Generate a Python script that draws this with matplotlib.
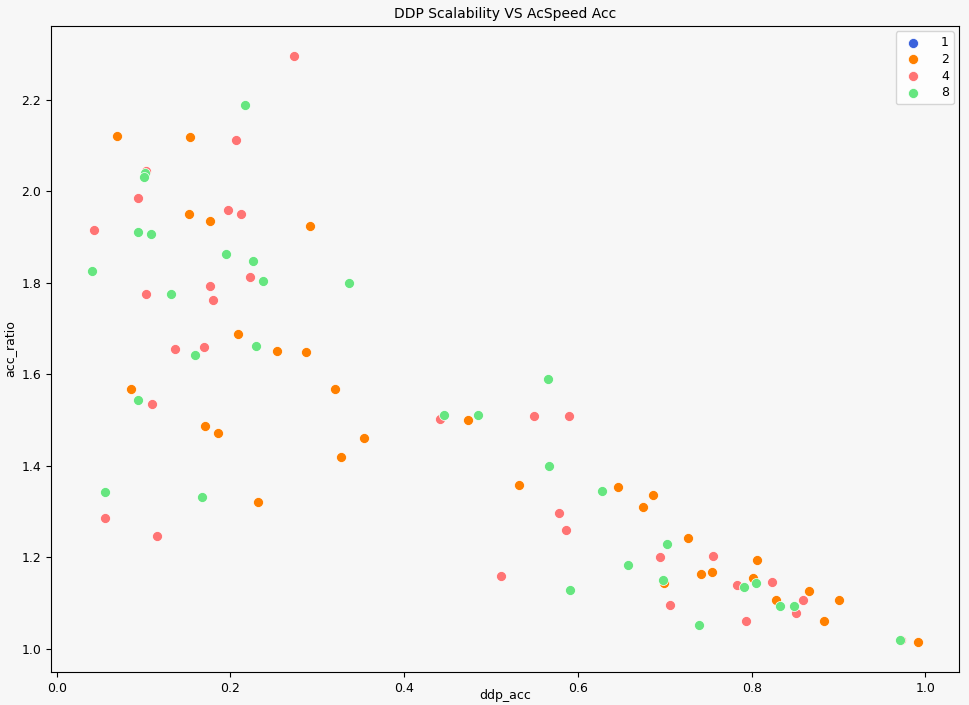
import matplotlib
matplotlib.use("Agg")
import matplotlib.pyplot as plt

# ddp_acc / acc_ratio per number of workers
x_1 = []
y_1 = []

x_2 = [0.069, 0.153, 0.152, 0.176, 0.291, 0.209, 0.253, 0.287, 0.086, 0.320,
       0.171, 0.186, 0.354, 0.327, 0.232, 0.474, 0.532, 0.646, 0.686, 0.675,
       0.727, 0.806, 0.754, 0.742, 0.699, 0.801, 0.866, 0.828, 0.901, 0.883,
       0.992]
y_2 = [2.121, 2.119, 1.950, 1.936, 1.925, 1.688, 1.651, 1.650, 1.568, 1.568,
       1.488, 1.473, 1.462, 1.420, 1.321, 1.501, 1.358, 1.354, 1.337, 1.310,
       1.242, 1.194, 1.169, 1.163, 1.144, 1.156, 1.127, 1.107, 1.108, 1.061,
       1.015]

x_4 = [0.273, 0.206, 0.103, 0.094, 0.043, 0.197, 0.212, 0.222, 0.176, 0.103,
       0.180, 0.136, 0.169, 0.110, 0.056, 0.115, 0.441, 0.549, 0.590, 0.578,
       0.586, 0.511, 0.695, 0.756, 0.706, 0.783, 0.823, 0.859, 0.793, 0.851,
       0.972]
y_4 = [2.296, 2.112, 2.044, 1.986, 1.915, 1.960, 1.950, 1.813, 1.794, 1.777,
       1.762, 1.655, 1.659, 1.536, 1.287, 1.248, 1.503, 1.510, 1.510, 1.297,
       1.261, 1.159, 1.201, 1.203, 1.096, 1.140, 1.147, 1.108, 1.061, 1.078,
       1.019]

x_8 = [0.217, 0.102, 0.100, 0.094, 0.108, 0.041, 0.195, 0.226, 0.237, 0.336,
       0.131, 0.159, 0.229, 0.094, 0.055, 0.167, 0.446, 0.485, 0.566, 0.567,
       0.628, 0.591, 0.658, 0.702, 0.698, 0.739, 0.791, 0.805, 0.833, 0.849,
       0.971]
y_8 = [2.188, 2.041, 2.031, 1.911, 1.907, 1.827, 1.863, 1.849, 1.805, 1.799,
       1.777, 1.643, 1.662, 1.544, 1.343, 1.332, 1.511, 1.511, 1.590, 1.399,
       1.346, 1.130, 1.184, 1.230, 1.151, 1.052, 1.136, 1.144, 1.093, 1.093,
       1.020]

series = [
    ("1", x_1, y_1, "#3a62dc"),
    ("2", x_2, y_2, "#ff8000"),
    ("4", x_4, y_4, "#ff7474"),
    ("8", x_8, y_8, "#66e680"),
]

bg = "#f7f7f7"
fig = plt.figure(figsize=(9.7, 7.05), dpi=100, facecolor=bg)
ax = fig.add_axes([51 / 970, 1 - 672 / 705, 908 / 970, 646 / 705])
ax.set_facecolor(bg)

for label, xs, ys, color in series:
    ax.scatter(xs, ys, s=52, color=color, edgecolors="white", linewidths=0.5,
               label=label)

ax.set_xlim(-0.0066, 1.0387)
ax.set_ylim(0.9497, 2.3617)
ax.set_xticks([0.0, 0.2, 0.4, 0.6, 0.8, 1.0])
ax.set_yticks([1.0, 1.2, 1.4, 1.6, 1.8, 2.0, 2.2])

ax.set_title("DDP Scalability VS AcSpeed Acc", fontsize=10)
ax.set_xlabel("ddp_acc", fontsize=9, va="bottom")
# the label sits right at the bottom edge, keep it just inside the canvas
ax.xaxis.set_label_coords(0.5, -0.047)
ax.set_ylabel("acc_ratio", fontsize=9)
ax.tick_params(labelsize=9)
ax.legend(loc="upper right", fontsize=9, labelspacing=0.3,
          handletextpad=1.2, borderaxespad=0.4)

fig.savefig("out.png", dpi=100, facecolor=bg)
